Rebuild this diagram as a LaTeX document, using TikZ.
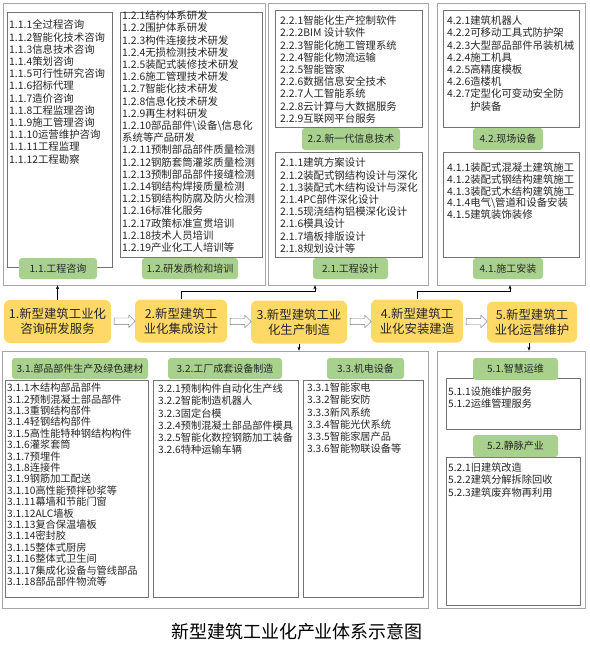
\documentclass[tikz,border=0pt]{standalone}
\usepackage{fontspec}
\setmainfont{Noto Sans CJK SC}
\usetikzlibrary{arrows.meta, shapes.arrows}
\definecolor{stagefill}{RGB}{255,217,102}
\definecolor{tagfill}{RGB}{169,209,142}
\definecolor{outerline}{RGB}{165,165,165}
\definecolor{innerline}{RGB}{115,115,115}

\begin{document}
\begin{tikzpicture}[x=1pt, y=-1pt]
        \tikzstyle{group} = [draw=outerline, inner sep=0]
        \tikzstyle{listbox} = [draw=innerline, inner sep=0]
        \tikzstyle{tag} = [fill=tagfill, rounded corners=3pt, inner sep=0, text=black!85, font=\fontsize{10}{12}\selectfont]
        \tikzstyle{stage} = [fill=stagefill, rounded corners=6pt, align=center, inner sep=0, text=black!85, font=\fontsize{12.4}{15}\selectfont]
        \tikzstyle{items} = [anchor=north west, align=left, inner sep=0, text=black!85, font=\fontsize{10.4}{12.2}\selectfont]
        \tikzstyle{small items} = [items, font=\fontsize{10.2}{12.2}\selectfont]
        \tikzstyle{hollow} = [single arrow, draw=innerline, fill=white, minimum height=21, text height=3pt, text depth=3pt, single arrow head extend=3pt, inner sep=0]
        \tikzstyle{pointer} = [-{Stealth[length=4pt, width=3pt]}]
        \useasboundingbox (0,0) rectangle (590,649);
        \node[group, minimum width=262, minimum height=282] (G1) at (134,144) {};
        \node[group, minimum width=160, minimum height=282] (G2) at (348,144) {};
        \node[group, minimum width=148, minimum height=282] (G4) at (511,144) {};
        \node[group, minimum width=426, minimum height=257] (G3) at (215,479.5) {};
        \node[group, minimum width=148, minimum height=257] (G5) at (511,479.5) {};
        \node[listbox, minimum width=105, minimum height=255] (B11) at (59.5,139.5) {};
        \node[listbox, minimum width=142, minimum height=245] (B12) at (191,134.5) {};
        \node[listbox, minimum width=147, minimum height=117] (B22) at (348.5,68.5) {};
        \node[listbox, minimum width=147, minimum height=105] (B21) at (348.5,204.5) {};
        \node[listbox, minimum width=136, minimum height=117] (B42) at (511,68.5) {};
        \node[listbox, minimum width=136, minimum height=105] (B41) at (511,204.5) {};
        \node[listbox, minimum width=143, minimum height=217] (B31) at (76.5,488.5) {};
        \node[listbox, minimum width=145, minimum height=217] (B32) at (225.5,488.5) {};
        \node[listbox, minimum width=120, minimum height=217] (B33) at (363,488.5) {};
        \node[listbox, minimum width=134, minimum height=51] (B51) at (513,403.5) {};
        \node[listbox, minimum width=134, minimum height=148] (B52) at (513,531) {};
        \node[tag, minimum width=78, minimum height=21] (T11) at (58,268.5) {1.1.工程咨询};
        \node[tag, minimum width=96, minimum height=21] (T12) at (190,268.5) {1.2.研发质检和培训};
        \node[tag, minimum width=98, minimum height=22] (T22) at (351,139) {2.2.新一代信息技术};
        \node[tag, minimum width=75, minimum height=21] (T21) at (350.5,268.5) {2.1.工程设计};
        \node[tag, minimum width=70, minimum height=22] (T42) at (508,139) {4.2.现场设备};
        \node[tag, minimum width=70, minimum height=21] (T41) at (508,268.5) {4.1.施工安装};
        \node[tag, minimum width=136, minimum height=21] (T31) at (80,368.5) {3.1.部品部件生产及绿色建材};
        \node[tag, minimum width=114, minimum height=21] (T32) at (225,368.5) {3.2.工厂成套设备制造};
        \node[tag, minimum width=77, minimum height=21] (T33) at (365.5,368.5) {3.3.机电设备};
        \node[tag, minimum width=85, minimum height=22] (T51) at (515.5,369) {5.1.智慧运维};
        \node[tag, minimum width=85, minimum height=22] (T52) at (515.5,446) {5.2.静脉产业};
        \node[items] (L11) at (9,19.8) {1.1.1全过程咨询\\1.1.2智能化技术咨询\\1.1.3信息技术咨询\\1.1.4策划咨询\\1.1.5可行性研究咨询\\1.1.6招标代理\\1.1.7造价咨询\\1.1.8工程监理咨询\\1.1.9施工管理咨询\\1.1.10运营维护咨询\\1.1.11工程监理\\1.1.12工程勘察};
        \node[items] (L12) at (122,10.8) {1.2.1结构体系研发\\1.2.2围护体系研发\\1.2.3构件连接技术研发\\1.2.4无损检测技术研发\\1.2.5装配式装修技术研发\\1.2.6施工管理技术研发\\1.2.7智能化技术研发\\1.2.8信息化技术研发\\1.2.9再生材料研发\\1.2.10部品部件\textbackslash 设备\textbackslash 信息化\\系统等产品研发\\1.2.11预制部品部件质量检测\\1.2.12钢筋套筒灌浆质量检测\\1.2.13预制部品部件接缝检测\\1.2.14钢结构焊接质量检测\\1.2.15钢结构防腐及防火检测\\1.2.16标准化服务\\1.2.17政策标准宣贯培训\\1.2.18技术人员培训\\1.2.19产业化工人培训等};
        \node[items] (L22) at (280,15.8) {2.2.1智能化生产控制软件\\2.2.2BIM 设计软件\\2.2.3智能化施工管理系统\\2.2.4智能化物流运输\\2.2.5智能管家\\2.2.6数据信息安全技术\\2.2.7人工智能系统\\2.2.8云计算与大数据服务\\2.2.9互联网平台服务};
        \node[items] (L21) at (280,157.8) {2.1.1建筑方案设计\\2.1.2装配式钢结构设计与深化\\2.1.3装配式木结构设计与深化\\2.1.4PC部件深化设计\\2.1.5现浇结构铝模深化设计\\2.1.6模具设计\\2.1.7墙板排版设计\\2.1.8规划设计等};
        \node[items] (L42) at (447,15.8) {4.2.1建筑机器人\\4.2.2可移动工具式防护架\\4.2.3大型部品部件吊装机械\\4.2.4施工机具\\4.2.5高精度模板\\4.2.6造楼机\\4.2.7定型化可变动安全防\\\phantom{4.2.7}护装备};
        \node[items, font=\fontsize{10.4}{11.7}\selectfont] (L41) at (447,162.8) {4.1.1装配式混凝土建筑施工\\4.1.2装配式钢结构建筑施工\\4.1.3装配式木结构建筑施工\\4.1.4电气\textbackslash 管道和设备安装\\4.1.5建筑装饰装修};
        \node[small items, font=\fontsize{10.2}{11.4}\selectfont] (L31) at (7,382.9) {3.1.1木结构部品部件\\3.1.2预制混凝土部品部件\\3.1.3重钢结构部件\\3.1.4轻钢结构部件\\3.1.5高性能特种钢结构构件\\3.1.6灌浆套筒\\3.1.7预埋件\\3.1.8连接件\\3.1.9钢筋加工配送\\3.1.10高性能预拌砂浆等\\3.1.11幕墙和节能门窗\\3.1.12ALC墙板\\3.1.13复合保温墙板\\3.1.14密封胶\\3.1.15整体式厨房\\3.1.16整体式卫生间\\3.1.17集成化设备与管线部品\\3.1.18部品部件物流等};
        \node[small items] (L32) at (158,383.9) {3.2.1预制构件自动化生产线\\3.2.2智能制造机器人\\3.2.3固定台模\\3.2.4预制混凝土部品部件模具\\3.2.5智能化数控钢筋加工装备\\3.2.6特种运输车辆};
        \node[small items] (L33) at (307,382.9) {3.3.1智能家电\\3.3.2智能安防\\3.3.3新风系统\\3.3.4智能光伏系统\\3.3.5智能家居产品\\3.3.6智能物联设备等};
        \node[small items] (L51) at (448,386.9) {5.1.1设施维护服务\\5.1.2运维管理服务};
        \node[small items] (L52) at (448,462.9) {5.2.1旧建筑改造\\5.2.2建筑分解拆除回收\\5.2.3建筑废弃物再利用};
        \node[stage, minimum width=107, minimum height=43] (S1) at (57.5,321.5) {1.新型建筑工业化\\咨询研发服务};
        \node[stage, minimum width=92, minimum height=43] (S2) at (181,321) {2.新型建筑工\\业化集成设计};
        \node[stage, minimum width=96, minimum height=43] (S3) at (299,322) {3.新型建筑工业\\化生产制造};
        \node[stage, minimum width=92, minimum height=43] (S4) at (417,321) {4.新型建筑工\\业化安装建造};
        \node[stage, minimum width=90, minimum height=41] (S5) at (532,322) {5.新型建筑工\\业化运营维护};
        \path (S1) -- node[hollow] {} (S2);
        \path (S2) -- node[hollow] {} (S3);
        \path (S3) -- node[hollow] {} (S4);
        \path (S4) -- node[hollow] {} (S5);
        \draw[pointer] (S1.north) -- (S1.north |- G1.south);
        \draw[pointer] (S2.north) -- ++(0,-8) -| ([xshift=-33]G2.south);
        \draw[pointer] (S3.south) -- (S3.south |- G3.north);
        \draw[pointer] (S4.north) -- ++(0,-8) -| ([xshift=-1]G4.south);
        \draw[pointer] ([xshift=-3]S5.south) -- ([xshift=-3]S5.south |- G5.north);
        \node[font=\fontsize{18}{20}\selectfont] (title) at (297,632) {新型建筑工业化产业体系示意图};
\end{tikzpicture}
\end{document}
